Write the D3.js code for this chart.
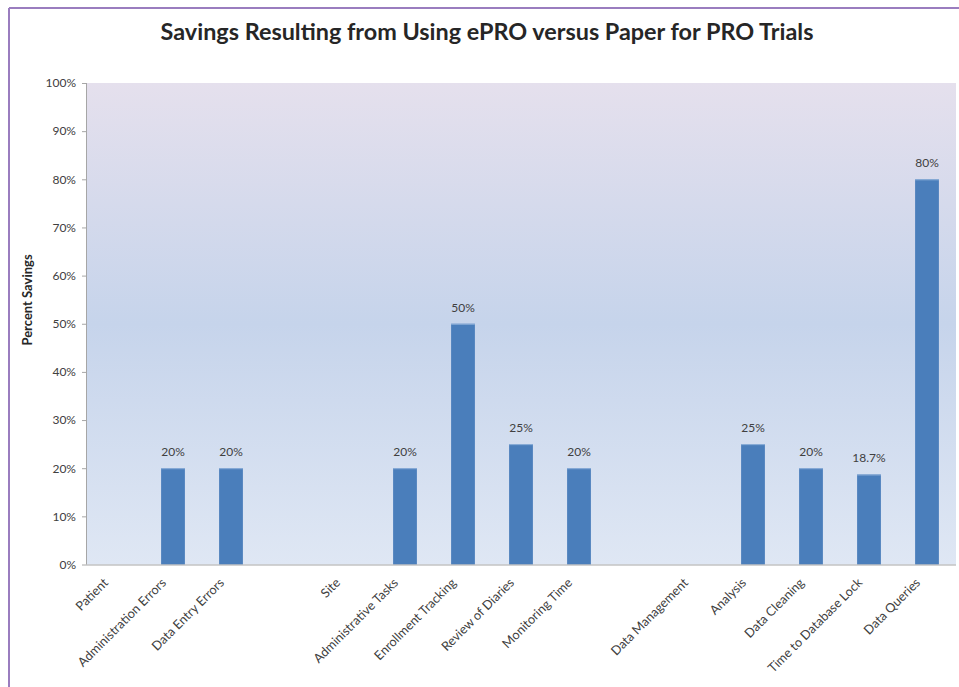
<!DOCTYPE html>
<html>
<head>
<meta charset="utf-8">
<script src="https://cdn.jsdelivr.net/npm/d3@7"></script>
<style>
  body { margin: 0; background: #fff; }
  text { font-family: Lato, "Open Sans", sans-serif; }
</style>
</head>
<body>
<div id="chart"></div>
<script>
// chart data (null = group heading, no bar)
var categories = ["Patient", "Administration Errors", "Data Entry Errors", "",
                  "Site", "Administrative Tasks", "Enrollment Tracking", "Review of Diaries", "Monitoring Time", "",
                  "Data Management", "Analysis", "Data Cleaning", "Time to Database Lock", "Data Queries"];
var savings = [null, 20, 20, null,
               null, 20, 50, 25, 20, null,
               null, 25, 20, 18.7, 80];
var valueLabels = ["", "20%", "20%", "",
                   "", "20%", "50%", "25%", "20%", "",
                   "", "25%", "20%", "18.7%", "80%"];
var yTicks = [0, 10, 20, 30, 40, 50, 60, 70, 80, 90, 100];

var width = 959, height = 687;
var margin = {left: 86, right: 3, top: 83, bottom: 123};

var svg = d3.select("#chart").append("svg")
    .attr("width", width)
    .attr("height", height);

// background gradient of the plot area
var grad = svg.append("defs").append("linearGradient")
    .attr("id", "bg").attr("x1", 0).attr("y1", 0).attr("x2", 0).attr("y2", 1);
grad.append("stop").attr("offset", "0%").attr("stop-color", "#e5e0ed");
grad.append("stop").attr("offset", "50%").attr("stop-color", "#c6d4eb");
grad.append("stop").attr("offset", "100%").attr("stop-color", "#dfe7f4");

// outer frame (purple)
svg.append("line").attr("x1", 9).attr("x2", 9).attr("y1", 8).attr("y2", height)
    .style("stroke", "#9a7dbf").style("stroke-width", 2);
svg.append("line").attr("x1", 9).attr("x2", width).attr("y1", 8).attr("y2", 8)
    .style("stroke", "#9a7dbf").style("stroke-width", 2);

var x = d3.scaleBand()
    .domain(d3.range(categories.length))
    .range([margin.left, width - margin.right])
    .paddingInner(0.59)
    .paddingOuter(0.295);

var y = d3.scaleLinear()
    .domain([0, 100])
    .range([height - margin.bottom + 0.5, margin.top]);

var yBase = y(0);

svg.append("rect")
    .attr("x", margin.left)
    .attr("y", margin.top)
    .attr("width", width - margin.right - margin.left)
    .attr("height", yBase - margin.top)
    .attr("fill", "url(#bg)");

// y axis
var yAxis = svg.append("g")
    .attr("transform", "translate(" + margin.left + ",0)")
    .call(d3.axisLeft(y).tickValues(yTicks).tickSize(4).tickPadding(6)
          .tickFormat(function(d) { return d + "%"; }));
yAxis.select(".domain").style("stroke", "#a6a6a6").attr("d", "M0.5," + margin.top + "V" + yBase);
yAxis.selectAll(".tick line").style("stroke", "#a6a6a6");
yAxis.selectAll(".tick text").style("font-size", "12px").style("fill", "#404040")
    .style("font-family", "Lato, 'Open Sans', sans-serif");

// bars
var idx = d3.range(categories.length).filter(function(i) { return savings[i] !== null; });

svg.selectAll(".bar")
    .data(idx)
    .enter()
    .append("rect")
    .attr("class", "bar")
    .attr("x", function(i) { return x(i); })
    .attr("y", function(i) { return y(savings[i]); })
    .attr("width", x.bandwidth())
    .attr("height", function(i) { return yBase - y(savings[i]); })
    .attr("fill", "#4a7ebb");

svg.selectAll(".barTop")
    .data(idx)
    .enter()
    .append("rect")
    .attr("class", "barTop")
    .attr("x", function(i) { return x(i); })
    .attr("y", function(i) { return y(savings[i]); })
    .attr("width", x.bandwidth())
    .attr("height", 1)
    .attr("fill", "#8eb0d9");

svg.selectAll(".valLabel")
    .data(idx)
    .enter()
    .append("text")
    .attr("class", "valLabel")
    .attr("x", function(i) { return x(i) + x.bandwidth() / 2; })
    .attr("y", function(i) { return y(savings[i]) - 12; })
    .attr("text-anchor", "middle")
    .style("font-size", "12px")
    .style("fill", "#404040")
    .text(function(i) { return valueLabels[i]; });

// x axis line
svg.append("line")
    .attr("x1", margin.left).attr("x2", width - margin.right)
    .attr("y1", yBase + 0.5).attr("y2", yBase + 0.5)
    .style("stroke", "#a6a6a6");

// category labels, rotated
svg.selectAll(".catLabel")
    .data(d3.range(categories.length))
    .enter()
    .append("text")
    .attr("class", "catLabel")
    .attr("transform", function(i) {
        return "translate(" + (x(i) + x.bandwidth() / 2 - 6) + "," + (yBase + 19) + ") rotate(-45)";
    })
    .attr("text-anchor", "end")
    .style("font-size", "12.7px")
    .style("fill", "#404040")
    .text(function(i) { return categories[i]; });

// y axis title
svg.append("text")
    .attr("transform", "translate(32,300) rotate(-90)")
    .attr("text-anchor", "middle")
    .style("font-size", "13px")
    .style("font-weight", "bold")
    .style("fill", "#262626")
    .text("Percent Savings");

// chart title
svg.append("text")
    .attr("x", 487)
    .attr("y", 40)
    .attr("text-anchor", "middle")
    .style("font-size", "23.4px")
    .style("font-weight", "bold")
    .style("fill", "#262626")
    .text("Savings Resulting from Using ePRO versus Paper for PRO Trials");
</script>
</body>
</html>
